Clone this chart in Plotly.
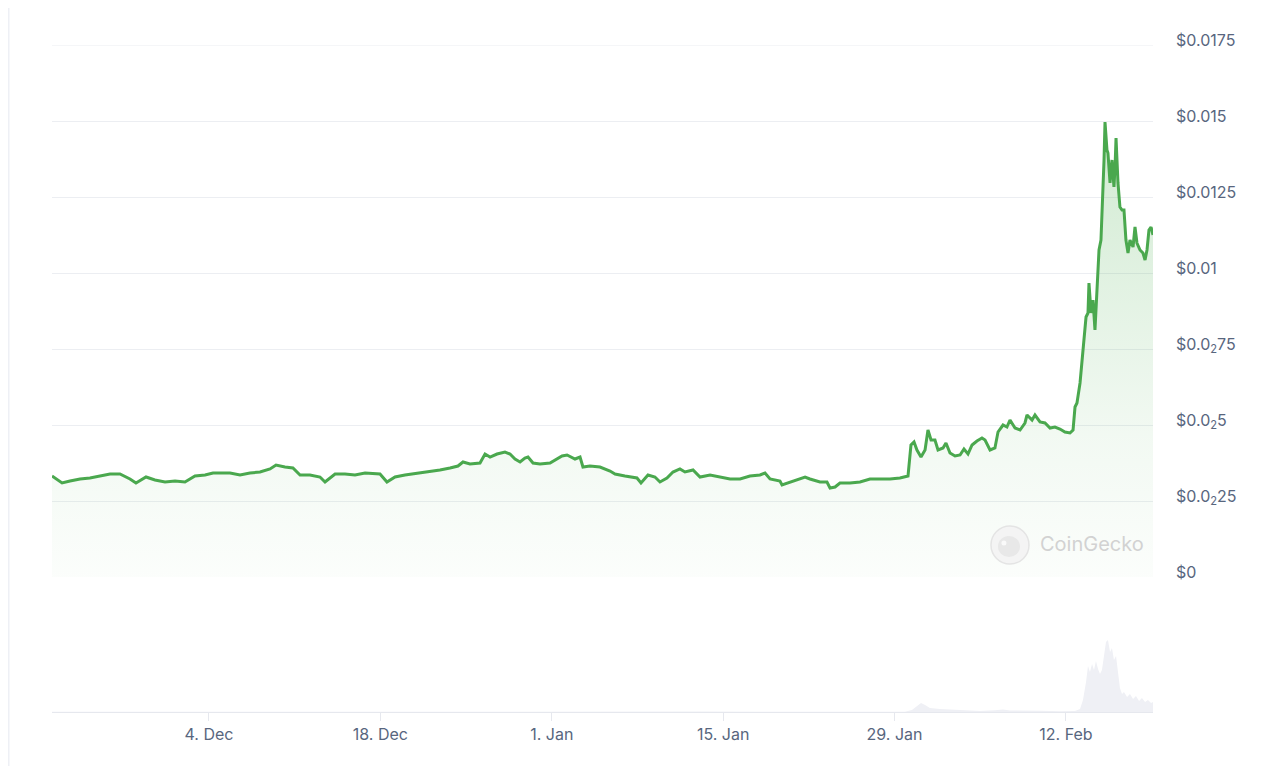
import pandas as pd
import plotly.graph_objects as go

# ---------------- data ----------------
BASE_DATE = "2024-11-21"

# price series: days since BASE_DATE, price in USD
price_days = [
    0.18, 1.00, 1.65, 2.47, 3.28, 4.10, 4.92, 5.73, 6.55, 7.04,
    7.86, 8.59, 9.41, 10.23, 11.04, 11.86, 12.68, 13.33, 13.90, 14.72,
    15.54, 16.35, 17.17, 17.99, 18.48, 19.21, 19.86, 20.44, 21.25, 22.07,
    22.48, 23.30, 24.11, 24.93, 25.75, 26.97, 27.54, 28.20, 29.01, 30.24,
    31.06, 31.87, 32.69, 33.34, 33.75, 34.32, 35.14, 35.55, 35.96, 36.53,
    37.18, 37.59, 38.00, 38.41, 38.81, 39.06, 39.47, 40.04, 40.86, 41.26,
    41.84, 42.25, 42.90, 43.31, 43.55, 44.12, 44.94, 45.76, 46.17, 46.98,
    47.39, 47.96, 48.29, 48.86, 49.43, 49.84, 50.41, 50.90, 51.47, 51.88,
    52.54, 53.11, 53.93, 54.74, 55.56, 56.38, 57.19, 58.01, 58.42, 58.83,
    59.64, 59.81, 60.46, 61.28, 61.69, 62.09, 62.91, 63.48, 63.73, 64.14,
    64.54, 65.36, 66.18, 66.99, 67.81, 68.63, 69.44, 70.10, 70.34, 70.59,
    70.83, 71.16, 71.49, 71.73, 71.98, 72.30, 72.55, 72.96, 73.20, 73.53,
    73.94, 74.35, 74.67, 75.00, 75.33, 75.73, 76.14, 76.39, 76.80, 77.20,
    77.45, 77.86, 78.18, 78.43, 78.84, 79.25, 79.65, 79.82, 80.23, 80.47,
    80.88, 81.29, 81.70, 82.10, 82.51, 82.92, 83.33, 83.58, 83.74, 83.90,
    84.15, 84.39, 84.55, 84.64, 84.80, 84.88, 85.05, 85.21, 85.37, 85.54,
    85.70, 85.86, 85.94, 86.02, 86.11, 86.19, 86.35, 86.43, 86.60, 86.76,
    86.92, 87.01, 87.09, 87.25, 87.41, 87.58, 87.74, 87.90, 88.07, 88.23,
    88.48, 88.64, 88.80, 89.05, 89.29, 89.46, 89.62, 89.78, 89.95, 90.11,
]
price_usd = [
    0.003322, 0.003092, 0.003158, 0.003224, 0.003257, 0.003322, 0.003388, 0.003388, 0.003224, 0.003092,
    0.003289, 0.003191, 0.003125, 0.003158, 0.003125, 0.003322, 0.003355, 0.003421, 0.003421, 0.003421,
    0.003355, 0.003421, 0.003454, 0.003553, 0.003684, 0.003618, 0.003586, 0.003355, 0.003355, 0.003289,
    0.003125, 0.003388, 0.003388, 0.003355, 0.003421, 0.003388, 0.003125, 0.003289, 0.003355, 0.003421,
    0.003454, 0.003520, 0.003586, 0.003651, 0.003783, 0.003717, 0.003750, 0.004046, 0.003947, 0.004046,
    0.004112, 0.004046, 0.003882, 0.003783, 0.003914, 0.003947, 0.003750, 0.003717, 0.003750, 0.003849,
    0.003980, 0.004013, 0.003882, 0.003947, 0.003618, 0.003651, 0.003618, 0.003487, 0.003388, 0.003322,
    0.003289, 0.003257, 0.003092, 0.003355, 0.003289, 0.003125, 0.003257, 0.003454, 0.003553, 0.003454,
    0.003520, 0.003289, 0.003355, 0.003289, 0.003224, 0.003224, 0.003322, 0.003355, 0.003421, 0.003224,
    0.003158, 0.003026, 0.003125, 0.003224, 0.003289, 0.003224, 0.003125, 0.003125, 0.002928, 0.002961,
    0.003092, 0.003092, 0.003125, 0.003224, 0.003224, 0.003224, 0.003257, 0.003322, 0.004342, 0.004441,
    0.004178, 0.003947, 0.004178, 0.004836, 0.004507, 0.004507, 0.004178, 0.004243, 0.004408, 0.004079,
    0.003980, 0.004013, 0.004211, 0.004046, 0.004342, 0.004474, 0.004572, 0.004507, 0.004178, 0.004243,
    0.004770, 0.005000, 0.004934, 0.005164, 0.004901, 0.004836, 0.005066, 0.005329, 0.005164, 0.005329,
    0.005099, 0.005066, 0.004901, 0.004934, 0.004868, 0.004770, 0.004737, 0.004836, 0.005592, 0.005724,
    0.006382, 0.007467, 0.008026, 0.008553, 0.008684, 0.009671, 0.008684, 0.009112, 0.008125, 0.009770,
    0.010757, 0.011086, 0.011842, 0.012401, 0.013717, 0.014967, 0.014046, 0.013947, 0.012961, 0.013717,
    0.012829, 0.013487, 0.014441, 0.012961, 0.012171, 0.012072, 0.012072, 0.011086, 0.010658, 0.011086,
    0.010855, 0.011513, 0.010987, 0.010757, 0.010658, 0.010428, 0.010757, 0.011414, 0.011513, 0.011250,
]

# volume series: days since BASE_DATE, volume (thousand USD)
volume_days = [
    0.18, 8.18, 16.35, 28.60, 40.86, 53.11, 65.36, 69.85, 70.42, 70.83,
    71.16, 71.49, 71.89, 72.71, 73.53, 74.75, 75.98, 77.20, 77.86, 78.43,
    79.65, 80.88, 82.51, 83.74, 84.15, 84.39, 84.64, 84.80, 84.96, 85.13,
    85.29, 85.45, 85.62, 85.78, 85.94, 86.11, 86.27, 86.43, 86.60, 86.76,
    86.92, 87.09, 87.25, 87.41, 87.58, 87.74, 87.99, 88.23, 88.48, 88.72,
    88.97, 89.21, 89.46, 89.70, 89.95, 90.11,
]
volume_k = [
    3, 4, 5, 4, 6, 4, 3, 3, 20, 60,
    90, 70, 40, 30, 25, 15, 10, 18, 25, 15,
    10, 12, 8, 10, 30, 120, 300, 460, 400, 480,
    420, 510, 430, 380, 420, 560, 700, 720, 600, 640,
    520, 560, 400, 240, 180, 200, 150, 180, 130, 160,
    110, 140, 100, 120, 90, 100,
]

tick_dates = ["2024-12-04", "2024-12-18", "2025-01-01", "2025-01-15", "2025-01-29", "2025-02-12"]
tick_date_labels = ["4. Dec", "18. Dec", "1. Jan", "15. Jan", "29. Jan", "12. Feb"]

price_ticks = [0, 0.0025, 0.005, 0.0075, 0.01, 0.0125, 0.015, 0.0175]
price_tick_labels = ["$0", "$0.0<sub>2</sub>25", "$0.0<sub>2</sub>5", "$0.0<sub>2</sub>75",
                     "$0.01", "$0.0125", "$0.015", "$0.0175"]

# ---------------- figure ----------------
base = pd.Timestamp(BASE_DATE)
price_x = base + pd.to_timedelta(price_days, unit="D")
volume_x = base + pd.to_timedelta(volume_days, unit="D")
x_start = base + pd.to_timedelta(0.18, unit="D")
x_end = base + pd.to_timedelta(90.11, unit="D")

LINE = "#4aa84e"
TXT = "#58667e"
GRID = "#eceef2"

fig = go.Figure()

fig.add_trace(go.Scatter(
    x=volume_x, y=volume_k, yaxis="y2", mode="lines",
    line=dict(width=0, color="#eff0f5"), fill="tozeroy", fillcolor="#eff0f5",
    hoverinfo="skip", showlegend=False,
))

fig.add_trace(go.Scatter(
    x=price_x, y=price_usd, yaxis="y", mode="lines",
    line=dict(color=LINE, width=3),
    fill="tozeroy",
    fillgradient=dict(
        type="vertical",
        colorscale=[[0, "rgba(76,175,80,0.02)"], [0.3, "rgba(76,175,80,0.07)"],
                    [1, "rgba(76,175,80,0.26)"]],
    ),
    showlegend=False,
))

fig.update_layout(
    width=1280, height=766,
    margin=dict(l=44, r=135, t=37, b=62),
    paper_bgcolor="white", plot_bgcolor="white",
    font=dict(family="Inter, Helvetica, Arial, sans-serif", size=16, color=TXT),
    xaxis=dict(
        type="date", range=[x_start, x_end], anchor="y2",
        showgrid=False, zeroline=False,
        showline=True, linecolor="#e6e8ee", linewidth=1,
        ticks="outside", ticklen=8, tickcolor="#e6e8ee", tickwidth=1,
        tickvals=tick_dates, ticktext=tick_date_labels,
        tickfont=dict(size=16, color=TXT),
    ),
    yaxis=dict(
        domain=[0.2024, 1.0], range=[0, 0.0175], side="right", anchor="x",
        tickvals=price_ticks, ticktext=price_tick_labels,
        showgrid=True, gridcolor=GRID, gridwidth=1, zeroline=False,
        showline=False, ticks="", ticklabelstandoff=22, ticklabelshift=-5,
        tickfont=dict(size=16, color=TXT),
    ),
    yaxis2=dict(
        domain=[0, 0.19], range=[0, 1267], visible=False, anchor="x",
    ),
    shapes=[
        dict(type="line", xref="paper", yref="y", x0=0, x1=1,
             y0=0.0175, y1=0.0175, line=dict(color=GRID, width=1), layer="below"),
        dict(type="line", xref="paper", yref="paper",
             x0=-0.0395, x1=-0.0395, y0=-0.093, y1=1.0555,
             line=dict(color="#eef0f5", width=2)),
        dict(type="circle", xref="paper", yref="paper",
             xsizemode="pixel", ysizemode="pixel", xanchor=0.8701, yanchor=0.2504,
             x0=-19, x1=19, y0=-19, y1=19,
             fillcolor="#f4f4f4", line=dict(color="#e4e4e4", width=1.5)),
        dict(type="circle", xref="paper", yref="paper",
             xsizemode="pixel", ysizemode="pixel", xanchor=0.8701, yanchor=0.2504,
             x0=-12, x1=10, y0=-12, y1=9,
             fillcolor="#e8e8e8", line=dict(width=0)),
        dict(type="circle", xref="paper", yref="paper",
             xsizemode="pixel", ysizemode="pixel", xanchor=0.8646, yanchor=0.2534,
             x0=-2.5, x1=2.5, y0=-2.5, y1=2.5,
             fillcolor="#fafafa", line=dict(width=0)),
    ],
    annotations=[
        dict(text="CoinGecko", xref="paper", yref="paper", x=0.8956, y=0.2519,
             xanchor="left", yanchor="middle", showarrow=False,
             font=dict(size=20, color="#d2d2d2",
                       family="Inter, Helvetica, Arial, sans-serif")),
    ],
)

fig.write_html("out.html")
